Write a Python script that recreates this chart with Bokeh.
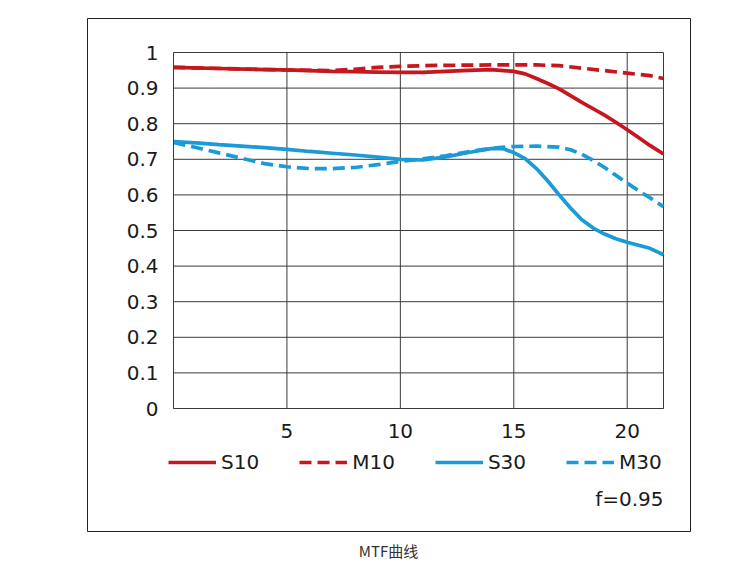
from bokeh.plotting import figure
from bokeh.models import Range1d, FixedTicker, Legend, LegendItem, Label, Div
from bokeh.layouts import column
from bokeh.embed import file_html
from bokeh.resources import INLINE

# ---------------- data ----------------
x_ticks = [5, 10, 15, 20]
y_ticks = [0, 0.1, 0.2, 0.3, 0.4, 0.5, 0.6, 0.7, 0.8, 0.9, 1.0]
y_tick_labels = ["0", "0.1", "0.2", "0.3", "0.4", "0.5", "0.6", "0.7", "0.8", "0.9", "1"]

x_s10 = [0, 2, 4, 5, 7, 8, 9, 10, 11, 12, 13, 14, 15, 15.5, 16, 16.5, 17, 17.5, 18, 18.5, 19, 19.5, 20, 20.5, 21, 21.6]
s10 = [0.958, 0.955, 0.952, 0.951, 0.947, 0.946, 0.945, 0.944, 0.944, 0.947, 0.950, 0.952, 0.947, 0.940,
       0.927, 0.913, 0.898, 0.879, 0.860, 0.842, 0.824, 0.804, 0.783, 0.761, 0.739, 0.715]

x_m10 = [0, 5, 7, 8, 9, 10, 11, 12, 14, 16, 17, 18, 19, 20, 21, 21.6]
m10 = [0.958, 0.951, 0.949, 0.953, 0.958, 0.961, 0.963, 0.964, 0.965, 0.965, 0.963, 0.956, 0.949, 0.942, 0.935, 0.927]

x_s30 = [0, 1, 2, 3, 4, 5, 6, 7, 8, 9, 10, 11, 12, 13, 14, 14.5, 15, 15.5, 16, 16.5, 17, 17.5, 18, 18.5,
         19, 19.5, 20, 21, 21.6]
s30 = [0.750, 0.746, 0.741, 0.737, 0.733, 0.728, 0.722, 0.717, 0.712, 0.706, 0.700, 0.698, 0.707, 0.719,
       0.730, 0.730, 0.719, 0.702, 0.674, 0.639, 0.600, 0.563, 0.530, 0.507, 0.490, 0.477, 0.467, 0.450, 0.432]

x_m30 = [0, 1, 2, 3, 4, 5, 6, 7, 8, 9, 10, 11, 12, 13, 14, 15, 16, 17, 17.5, 18, 18.5, 19, 19.5, 20, 20.5,
         21, 21.6]
m30 = [0.747, 0.733, 0.718, 0.703, 0.688, 0.679, 0.674, 0.674, 0.677, 0.685, 0.694, 0.701, 0.710, 0.721,
       0.731, 0.736, 0.737, 0.734, 0.727, 0.714, 0.697, 0.677, 0.655, 0.633, 0.612, 0.592, 0.567]

series_names = ["S10", "M10", "S30", "M30"]
note_text = "f=0.95"
caption_text = "MTF曲线"

# ---------------- layout (pixels inside the bordered box) ----------------
X_MAX = 21.6
BOX_W, BOX_H = 603, 513          # frame == bordered box
A_LEFT, A_TOP, A_W, A_H = 86, 34, 490, 356   # chart area inside the box
SX = A_W / X_MAX                 # px per x unit
SY = A_H / 1.0                   # px per y unit
RED = "#c6161e"
BLUE = "#1a9ad6"
GRID = "#3a3a3a"
FONT = "DejaVu Sans"
FSIZE = "20px"
TXT = "#1a1a1a"

x0 = -A_LEFT / SX
x1 = X_MAX + (BOX_W - A_LEFT - A_W) / SX
y0 = -(BOX_H - A_TOP - A_H) / SY
y1 = 1 + A_TOP / SY

p = figure(width=BOX_W + 2, height=BOX_H + 2, output_backend="svg", toolbar_location=None,
           x_range=Range1d(x0, x1), y_range=Range1d(y0, y1), min_border=1)
p.margin = (17, 0, 0, 86)
p.background_fill_color = "white"
p.border_fill_color = "white"
p.outline_line_color = "#222222"
p.outline_line_width = 1
p.grid.visible = False

# axes drawn at the chart-area edges
p.xaxis.fixed_location = 0
p.yaxis.fixed_location = 0
p.xaxis.bounds = (0, X_MAX)
p.yaxis.bounds = (0, 1)
p.xaxis.ticker = FixedTicker(ticks=x_ticks)
p.yaxis.ticker = FixedTicker(ticks=y_ticks)
p.yaxis.major_label_overrides = {t: l for t, l in zip(y_ticks, y_tick_labels)}
for ax in (p.xaxis[0], p.yaxis[0]):
    ax.axis_line_color = GRID
    ax.major_tick_line_color = None
    ax.minor_tick_line_color = None
    ax.major_label_text_font = FONT
    ax.major_label_text_font_size = FSIZE
    ax.major_label_text_color = TXT
p.yaxis.major_label_standoff = 9
p.xaxis.major_label_standoff = 9

# grid lines limited to the chart area (plus its right edge)
vx = x_ticks + [X_MAX]
p.segment(x0=vx, y0=[0] * len(vx), x1=vx, y1=[1] * len(vx), line_color=GRID, line_width=1)
p.segment(x0=[0] * len(y_ticks), y0=y_ticks, x1=[X_MAX] * len(y_ticks), y1=y_ticks,
          line_color=GRID, line_width=1)

lw = 3.7
r1 = p.line(x_s10, s10, line_color=RED, line_width=lw)
r2 = p.line(x_m10, m10, line_color=RED, line_width=lw, line_dash="12 6")
r3 = p.line(x_s30, s30, line_color=BLUE, line_width=lw)
r4 = p.line(x_m30, m30, line_color=BLUE, line_width=lw, line_dash="12 6")

legend = Legend(items=[LegendItem(label=n, renderers=[r]) for n, r in zip(series_names, [r1, r2, r3, r4])],
                orientation="horizontal", location=(81, 57),
                glyph_width=48, glyph_height=20, label_height=20, label_standoff=5, spacing=40,
                padding=0, margin=0, border_line_color=None, background_fill_alpha=0,
                label_text_font=FONT, label_text_font_size=FSIZE, label_text_color=TXT)
p.add_layout(legend)

p.add_layout(Label(x=X_MAX, y=-90 / SY, text=note_text, text_align="right", text_baseline="middle",
                   text_font=FONT, text_font_size=FSIZE, text_color=TXT))

cap = Div(text=caption_text, width=BOX_W + 2, height=20, margin=(9, 0, 0, 86),
          styles={"text-align": "center", "font-family": "'Noto Sans CJK SC', sans-serif",
                  "font-size": "15px", "line-height": "20px", "color": "#333333"})

layout = column(p, cap, spacing=0)
open("out.html", "w").write(file_html(layout, INLINE))
